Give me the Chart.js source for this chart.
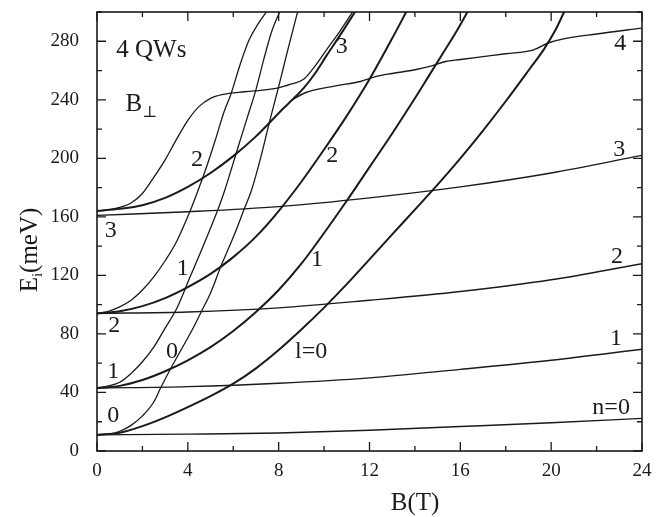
<!DOCTYPE html>
<html><head><meta charset="utf-8">
<script src="https://cdn.jsdelivr.net/npm/chart.js@4.4.0/dist/chart.umd.min.js"></script>
<style>html,body{margin:0;padding:0;background:#fff;}#wrap{width:667px;height:517px;}</style>
</head><body><div id="wrap"><canvas id="c" width="667" height="517"></canvas></div>
<script>
// ---- data (B in T, E in meV) ----
const n0Flat = [[0,11],[4,11.5],[8,12.3],[12,14.2],[16,16.7],[20,19.3],[24,22.3]];
const n1Flat = [[0,43],[4,44],[8,46.3],[12,50],[16,55.8],[20,62],[24,69.5]];
const n2Flat = [[0,94],[4,95],[8,97.8],[12,103],[16,109],[20,117],[24,128]];
const n3Flat = [[0,161],[4,163.5],[8,167],[12,173],[16,180.5],[20,190],[24,202]];
const n4Flat = [[8.6,240],[9.2,245],[10.5,249.5],[11.6,252.5],[12.3,256],[13,258],[14,260.5],[14.7,263],[15.3,266],[16,267.5],[17,269.5],[18,271.5],[19.2,274],[19.9,279],[20.5,281.5],[22,285],[24,289]];
const lZero = [[0,11],[1,12.5],[2,17],[3,23],[4,30],[5,37.5],[6,46],[7,56.5],[8,69],[9,83],[10,98],[11,114],[12,131],[13,148],[14,165],[15,182],[16,200],[17,219],[18,239],[19,260],[19.7,275],[20.2,288],[20.6,301]];
const lOne = [[0,43],[1,44.5],[2,48.5],[3,54.5],[4,62],[5,71],[6,82],[7,95],[8,110],[9,128],[10,149],[11,171],[12,194],[13,217],[14,241],[14.6,256],[15.2,271],[15.8,286],[16.35,301]];
const lTwoN2 = [[0,94],[1,95.5],[2,99],[3,104.5],[4,112],[5,121],[6,132.5],[7,146.5],[8,164],[9,184],[10,206],[11,229],[12,254],[13,282],[13.65,301]];
const lTwoN3 = [[0,164],[1,165.5],[2,168],[3,173],[4,180.5],[5,190],[6,201.5],[7,215],[7.7,226],[8.2,234],[8.6,240],[9.1,248],[9.6,258],[10.1,270],[10.7,284],[11.4,301]];
const sCurve = [[0,164],[0.5,164.8],[1,166.5],[1.5,169.5],[2,176],[2.5,187],[3,199],[3.5,213],[4,226],[4.5,235.5],[5,241],[5.5,243.5],[6.5,245.5],[7.5,247],[8,248.2],[8.5,250.5],[9.1,254],[9.6,263],[10.1,274],[10.7,287],[11.3,301]];
const thin0 = [[0,11],[0.5,11.5],[1,13.5],[1.5,17.5],[2,24],[2.5,33.5],[2.8,43],[3.2,55],[3.7,69],[4.2,83],[4.62,96],[5,108],[5.45,126],[6,146],[6.5,166],[6.8,178],[7.2,200],[7.63,227],[8,249],[8.4,274],[8.85,301]];
const thin1 = [[0,43],[0.5,44.5],[1,47],[1.5,53],[2,61],[2.5,71],[3,84],[3.5,97],[4.1,119],[4.7,141],[5.35,166],[5.6,177],[6.16,205],[6.6,227],[7,247],[7.35,268],[7.7,287],[8.07,301]];
const thin2 = [[0,94],[0.5,95.5],[1,98.5],[1.5,103],[2,110],[2.5,119],[3,130],[3.5,143],[4.1,164],[4.4,176],[4.8,193],[5.2,212],[5.6,232],[5.9,244],[6.3,264],[6.7,281],[7.1,292],[7.5,301]];

const xTickLabels = [0,4,8,12,16,20,24];
const yTickLabels = [0,40,80,120,160,200,240,280];

// curve labels: text, B, E (centre)
const curveLabels = [
  ['3',0.61,150.5],['2',0.76,85.5],['1',0.72,54.5],['0',0.72,23.8],
  ['0',3.3,68],['1',3.78,124.3],['2',4.4,199],
  ['2',10.36,201.6],['1',9.69,130.8],['l=0',9.43,67.6],['3',10.78,276],
  ['4',23.04,278],['3',23.0,206],['2',22.9,132.5],['1',22.86,76.8],['n=0',22.64,29.6]
];

const FONT = "'Liberation Serif','DejaVu Serif',serif";
const INK = '#1a1a1a';

function ds(arr, w){
  return {data: arr.map(p=>({x:p[0], y:p[1]})), borderColor: INK, borderWidth: w,
    pointRadius: 0, fill:false, cubicInterpolationMode:'monotone'};
}

const framePlugin = {
  id:'frame',
  afterDatasetsDraw(chart){
    const {ctx, chartArea:a, scales:{x, y}} = chart;
    ctx.save();
    ctx.strokeStyle = INK; ctx.lineWidth = 1.6;
    ctx.strokeRect(a.left, a.top, a.right-a.left, a.bottom-a.top);
    ctx.lineWidth = 1.3;
    ctx.beginPath();
    for (let v=0; v<=24; v+=2){
      const px = x.getPixelForValue(v), L = (v%4===0)?9:5;
      ctx.moveTo(px, a.bottom); ctx.lineTo(px, a.bottom-L);
      ctx.moveTo(px, a.top); ctx.lineTo(px, a.top+L);
    }
    for (let v=0; v<=300; v+=20){
      const py = y.getPixelForValue(v), L = (v%40===0)?9:5;
      ctx.moveTo(a.left, py); ctx.lineTo(a.left+L, py);
      ctx.moveTo(a.right, py); ctx.lineTo(a.right-L, py);
    }
    ctx.stroke();
    // curve labels
    ctx.fillStyle = INK; ctx.textAlign='center'; ctx.textBaseline='middle';
    ctx.font = "24px "+FONT;
    for (const [t,b,e] of curveLabels){
      ctx.fillText(t, x.getPixelForValue(b), y.getPixelForValue(e));
    }
    // title texts
    ctx.font = "25px "+FONT;
    ctx.textAlign='left';
    ctx.fillText('4 QWs', x.getPixelForValue(0.85), y.getPixelForValue(274));
    const bx = x.getPixelForValue(1.25), byy = y.getPixelForValue(237);
    ctx.fillText('B', bx, byy);
    const bw = ctx.measureText('B').width;
    ctx.font = "16px "+FONT;
    ctx.fillText('\u22A5', bx+bw, byy+9);
    // axis titles
    ctx.font = "25px "+FONT; ctx.textAlign='center';
    ctx.fillText('B(T)', 415, 503);
    ctx.save();
    ctx.translate(30, 250); ctx.rotate(-Math.PI/2);
    ctx.textAlign='left';
    const p1='E', p2='i', p3='(meV)';
    ctx.font = "25px "+FONT; const w1 = ctx.measureText(p1).width;
    ctx.font = "15px "+FONT; const w2 = ctx.measureText(p2).width;
    ctx.font = "25px "+FONT; const w3 = ctx.measureText(p3).width;
    let sx = -(w1+w2+w3)/2;
    ctx.fillText(p1, sx, 0); sx += w1;
    ctx.font = "15px "+FONT; ctx.fillText(p2, sx, 8); sx += w2;
    ctx.font = "25px "+FONT; ctx.fillText(p3, sx, 0);
    ctx.restore();
    ctx.restore();
  }
};

const hiddenTickGrid = (len)=>({display:true, drawOnChartArea:false, drawTicks:true,
  tickLength:len, tickColor:'rgba(0,0,0,0)', color:'rgba(0,0,0,0)'});

new Chart(document.getElementById('c'), {
  type:'line',
  data:{datasets:[
    ds(n0Flat,1.4), ds(n1Flat,1.4), ds(n2Flat,1.4), ds(n3Flat,1.4), ds(n4Flat,1.4),
    ds(lZero,2.0), ds(lOne,2.0), ds(lTwoN2,2.0), ds(lTwoN3,2.0),
    ds(sCurve,1.3), ds(thin0,1.3), ds(thin1,1.3), ds(thin2,1.3)
  ]},
  options:{
    responsive:false, animation:false, devicePixelRatio:1,
    layout:{padding:{left:0,right:25,top:12,bottom:0}},
    plugins:{legend:{display:false}, tooltip:{enabled:false}},
    scales:{
      x:{type:'linear', min:0, max:24,
        grid:hiddenTickGrid(9), border:{display:false},
        ticks:{stepSize:2, autoSkip:false, maxRotation:0, padding:0, color:INK,
          font:{family:FONT, size:19},
          callback:v=> xTickLabels.includes(v) ? String(v) : ''},
        afterFit:s=>{s.height=66;}},
      y:{type:'linear', min:0, max:300,
        grid:hiddenTickGrid(18), border:{display:false},
        ticks:{stepSize:20, autoSkip:false, padding:0, color:INK,
          font:{family:FONT, size:19},
          callback:v=> yTickLabels.includes(v) ? String(v) : ''},
        afterFit:s=>{s.width=97;}}
    }
  },
  plugins:[framePlugin]
});
</script></body></html>
